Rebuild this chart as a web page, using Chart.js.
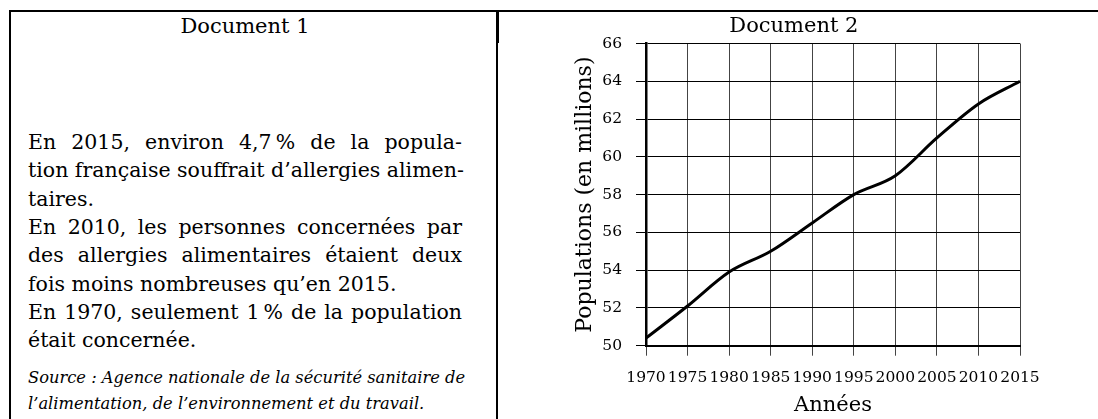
<!DOCTYPE html>
<html>
<head>
<meta charset="utf-8">
<script src="https://cdn.jsdelivr.net/npm/chart.js@4.4.1/dist/chart.umd.min.js"></script>
<style>
  body { margin: 0; width: 1098px; height: 419px; overflow: hidden; background: #fff; position: relative;
         font-family: "DejaVu Serif", serif; color: #000; }
  .rule { position: absolute; background: #000; }
  .doc-title { position: absolute; left: 9px; width: 472px; top: 14px; text-align: center; font-size: 21px; line-height: 25px; }
  .line { position: absolute; left: 28px; width: 434px; font-size: 20.5px; line-height: 24px; white-space: nowrap; }
  .just { text-align: justify; text-align-last: justify; }
  .src { font-style: italic; font-size: 16.3px; line-height: 20px; }
  #chartBox { position: absolute; left: 499px; top: 12px; }
</style>
</head>
<body>
<div class="rule" style="left:9px;top:10px;width:1089px;height:2px"></div>
<div class="rule" style="left:9px;top:10px;width:2px;height:409px"></div>
<div class="rule" style="left:496px;top:10px;width:3px;height:33px"></div>
<div class="rule" style="left:496px;top:43px;width:2px;height:376px"></div>

<div class="doc-title">Document 1</div>
<div class="line just" style="top:130px">En 2015, environ 4,7&#8239;% de la popula-</div>
<div class="line just" style="top:158.3px">tion française souffrait d’allergies alimen-</div>
<div class="line" style="top:186.6px">taires.</div>
<div class="line just" style="top:214.9px">En 2010, les personnes concernées par</div>
<div class="line just" style="top:243.2px">des allergies alimentaires étaient deux</div>
<div class="line" style="top:271.5px">fois moins nombreuses qu’en 2015.</div>
<div class="line just" style="top:299.8px">En 1970, seulement 1&#8239;% de la population</div>
<div class="line" style="top:328.1px">était concernée.</div>
<div class="line just src" style="top:368px">Source : Agence nationale de la sécurité sanitaire de</div>
<div class="line src" style="top:394px">l’alimentation, de l’environnement et du travail.</div>

<div id="chartBox"><canvas id="popChart" width="599" height="410"></canvas></div>

<script>
// Population of France, in millions
const years = ['1970', '1975', '1980', '1985', '1990', '1995', '2000', '2005', '2010', '2015'];
const population = [50.4, 52.1, 53.9, 55.0, 56.5, 58.0, 59.0, 61.0, 62.8, 64.0];
const yTicks = [50, 52, 54, 56, 58, 60, 62, 64, 66];

Chart.defaults.font.family = '"DejaVu Serif", serif';
Chart.defaults.color = '#000';

const ctx = document.getElementById('popChart').getContext('2d');

new Chart(ctx, {
    type: 'line',
    data: {
        labels: years,
        datasets: [{
            label: 'Population',
            data: population,
            borderColor: '#000',
            borderWidth: 3,
            pointRadius: 0,
            cubicInterpolationMode: 'monotone',
            fill: false
        }]
    },
    options: {
        responsive: false,
        animation: false,
        layout: { padding: { left: 68.8, right: 78, top: 0, bottom: 3.4 } },
        plugins: {
            legend: { display: false },
            tooltip: { enabled: false },
            title: {
                display: true,
                text: 'Document 2',
                color: '#000',
                font: { size: 21, weight: 'normal' },
                padding: { top: 2.4, bottom: 3.9 }
            }
        },
        scales: {
            x: {
                grid: { color: '#444', lineWidth: 1, tickLength: 10, offset: false },
                border: { color: '#000', width: 2 },
                ticks: { font: { size: 15.5 }, padding: 13, autoSkip: false, maxRotation: 0 },
                title: { display: true, text: 'Années', font: { size: 21 }, padding: { top: 0, bottom: 0 } },
                afterFit: s => { s.height = 72.9; }
            },
            y: {
                min: 50,
                max: 66,
                afterBuildTicks: s => { s.ticks = yTicks.map(v => ({ value: v })); },
                grid: { color: '#000', lineWidth: 1, tickLength: 10 },
                border: { color: '#000', width: 2.5 },
                ticks: { font: { size: 15.5 }, padding: 14 },
                title: { display: true, text: 'Populations (en millions)', font: { size: 22 }, padding: { top: 4, bottom: 4 } },
                afterFit: s => { s.width = 78.2; }
            }
        }
    }
});
</script>
</body>
</html>
